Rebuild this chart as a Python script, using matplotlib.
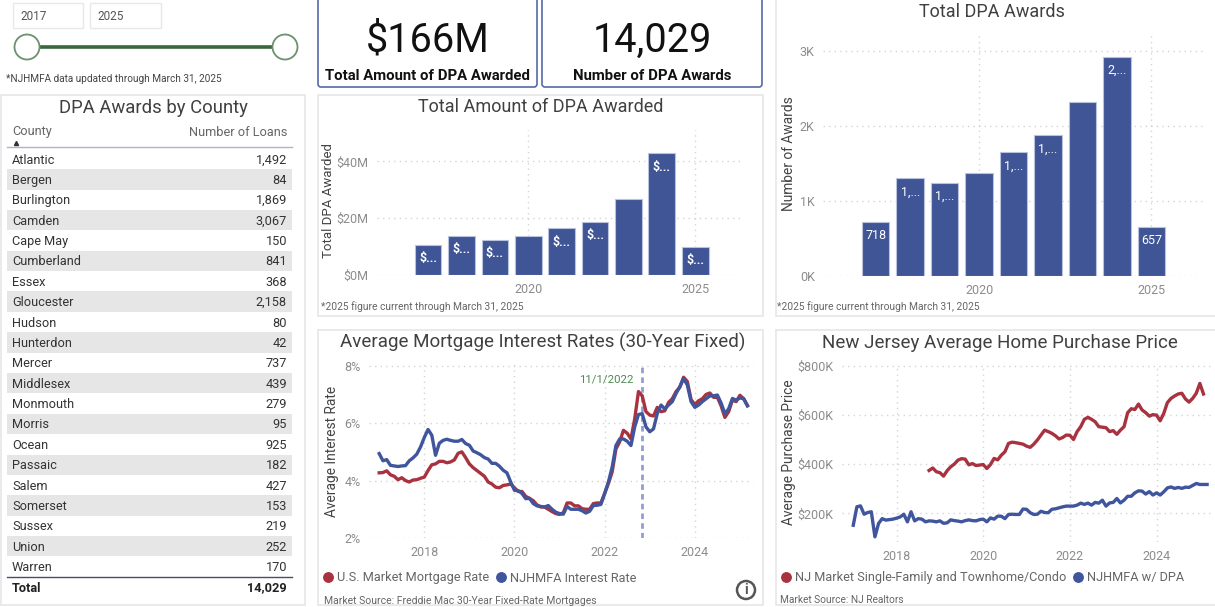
"""New Jersey DPA dashboard rebuilt as one matplotlib figure."""

import matplotlib.pyplot as plt
import numpy as np
from matplotlib.lines import Line2D
from matplotlib.patches import Circle, FancyBboxPatch, Rectangle

W, H = 1215, 607

COLOR_BAR = "#3f5595"
COLOR_BAR_EDGE = "#b9c3de"
COLOR_RED = "#a8323f"
COLOR_BLUE = "#3f559d"
COLOR_GREEN = "#38693a"
COLOR_TITLE = "#404040"
COLOR_TICK = "#8c8c8c"
COLOR_AXIS_TITLE = "#444444"
COLOR_NOTE = "#666666"
COLOR_PANEL = "#e8e8e8"
COLOR_GRID = "#d4d4d4"

# --- County table ---
COUNTIES = [
    "Atlantic", "Bergen", "Burlington", "Camden", "Cape May", "Cumberland", "Essex",
    "Gloucester", "Hudson", "Hunterdon", "Mercer", "Middlesex", "Monmouth", "Morris",
    "Ocean", "Passaic", "Salem", "Somerset", "Sussex", "Union", "Warren",
]
COUNTY_LOANS = [
    1492, 84, 1869, 3067, 150, 841, 368, 2158, 80, 42, 737, 439, 279, 95, 925, 182,
    427, 153, 219, 252, 170,
]
TOTAL_LOANS = 14029

# --- Yearly bars ---
BAR_YEARS = [2017, 2018, 2019, 2020, 2021, 2022, 2023, 2024, 2025]
AMOUNT_M = [10.6, 13.9, 12.35, 13.65, 16.5, 18.8, 26.8, 42.9, 10.0]
AMOUNT_LABELS = ["$...", "$...", "$...", "", "$...", "$...", "", "$...", "$..."]
AWARDS = [718, 1300, 1240, 1365, 1645, 1875, 2310, 2919, 657]
AWARD_LABELS = ["718", "1,...", "1,...", "", "1,...", "1,...", "", "2,...", "657"]

# --- Monthly rates, Jan 2017 to Mar 2025 ---
US_RATE = [
    4.27, 4.28, 4.34, 4.20, 4.15, 4.03, 4.10, 4.00, 3.95, 4.02, 4.03, 4.08,
    4.12, 4.35, 4.55, 4.58, 4.67, 4.67, 4.62, 4.65, 4.72, 4.95, 5.00, 4.80,
    4.58, 4.45, 4.35, 4.25, 4.15, 3.95, 3.88, 3.77, 3.75, 3.83, 3.85, 3.88,
    3.75, 3.62, 3.62, 3.45, 3.38, 3.30, 3.15, 3.08, 3.08, 3.00, 2.92, 2.85,
    2.82, 2.88, 3.22, 3.22, 3.12, 3.12, 3.02, 3.00, 3.00, 3.20, 3.22, 3.22,
    3.55, 3.90, 4.30, 5.10, 5.35, 5.75, 5.65, 5.45, 6.15, 7.10, 6.95, 6.40,
    6.28, 6.25, 6.55, 6.40, 6.43, 6.72, 6.85, 7.10, 7.25, 7.60, 7.45, 6.82,
    6.65, 6.78, 6.85, 7.00, 7.05, 6.90, 6.90, 6.60, 6.20, 6.40, 6.80, 6.75,
    6.97, 6.85, 6.62,
]
NJ_RATE = [
    4.94, 4.69, 4.73, 4.53, 4.51, 4.49, 4.51, 4.52, 4.69, 4.79, 4.92, 5.17,
    5.50, 5.78, 5.58, 4.88, 5.30, 5.40, 5.44, 5.40, 5.37, 5.37, 5.43, 5.29,
    5.23, 5.03, 4.97, 4.90, 4.80, 4.75, 4.60, 4.60, 4.50, 4.36, 4.27, 3.95,
    3.66, 3.65, 3.55, 3.37, 3.38, 3.20, 3.12, 3.10, 3.08, 3.13, 3.00, 2.90,
    2.85, 2.83, 3.10, 3.00, 3.00, 3.00, 2.95, 2.87, 2.93, 3.13, 3.14, 3.17,
    3.55, 3.95, 4.47, 5.22, 5.45, 5.45, 5.37, 5.22, 5.87, 6.30, 6.33, 5.87,
    5.70, 5.80, 6.33, 6.63, 6.50, 6.63, 6.75, 7.03, 7.27, 7.55, 7.33, 6.75,
    6.55, 6.63, 6.75, 6.85, 6.95, 6.95, 6.98, 6.70, 6.33, 6.50, 6.86, 6.80,
    6.88, 6.85, 6.60,
]
RATE_EVENT_X = 2022 + 10 / 12

# --- Monthly home prices in $K; market series runs Oct 2018 to Feb 2025 ---
MARKET_PRICE = [
    375, 385, 370,
    366, 352, 374, 390, 401, 417, 423, 421, 398, 403, 395, 397,
    399, 383, 399, 424, 418, 437, 451, 485, 490, 488, 485, 482,
    474, 469, 482, 499, 519, 539, 533, 526, 516, 503, 509, 519,
    518, 501, 533, 553, 583, 591, 583, 573, 553, 551, 549, 533,
    537, 522, 539, 553, 610, 626, 623, 645, 621, 610, 596, 602,
    600, 577, 607, 651, 668, 678, 686, 689, 666, 653, 668, 689,
    729, 686,
]
NJ_PRICE = [
    152, 227, 231, 197, 204, 207, 105, 159, 179, 173, 175, 177,
    181, 186, 197, 166, 207, 170, 179, 177, 166, 170, 169, 166,
    170, 160, 162, 174, 171, 169, 166, 171, 174, 171, 170, 175,
    177, 166, 182, 177, 189, 189, 179, 196, 197, 196, 196, 218,
    217, 203, 196, 197, 209, 204, 203, 217, 219, 223, 227, 230,
    230, 230, 234, 242, 237, 242, 234, 245, 242, 254, 230, 243,
    245, 261, 243, 254, 270, 270, 284, 292, 291, 279, 289, 275,
    284, 275, 288, 304, 308, 302, 306, 302, 307, 306, 314, 322,
    318, 318, 318,
]

plt.rcParams["font.family"] = ["Roboto", "DejaVu Sans"]
plt.rcParams["axes.unicode_minus"] = False

fig = plt.figure(figsize=(W / 100, H / 100), dpi=100, facecolor="white")

# Page layer in pixel coordinates, for panels and loose text
bg = fig.add_axes([0, 0, 1, 1], zorder=0)
bg.set_xlim(0, W)
bg.set_ylim(H, 0)
bg.axis("off")


def chart_axes(left, top, right, bottom):
    ax = fig.add_axes(
        [left / W, 1 - bottom / H, (right - left) / W, (bottom - top) / H], zorder=1
    )
    ax.patch.set_visible(False)
    for spine in ax.spines.values():
        spine.set_visible(False)
    ax.tick_params(length=0, labelsize=9, labelcolor=COLOR_TICK, pad=6)
    ax.grid(True, color=COLOR_GRID, linestyle=(0, (1, 3)), linewidth=1)
    ax.set_axisbelow(True)
    return ax


def panel(x0, y0, x1, y1):
    bg.add_patch(
        Rectangle((x0, y0), x1 - x0, y1 - y0, facecolor="white", edgecolor=COLOR_PANEL, linewidth=1.3)
    )


def card(x0, x1, value, caption):
    bg.add_patch(
        FancyBboxPatch(
            (x0 + 3, -10), x1 - x0 - 6, 97, boxstyle="round,pad=0,rounding_size=3",
            facecolor="white", edgecolor="#566aa6", linewidth=1.2,
        )
    )
    mid = (x0 + x1) / 2
    bg.text(mid, 40, value, ha="center", va="center", fontsize=28.5, color="#111111")
    bg.text(mid, 76, caption, ha="center", va="center", fontsize=10.7, fontweight="bold", color="#111111")


def bar_chart(ax, values, labels, weight):
    bars = ax.bar(BAR_YEARS, values, 0.8, color=COLOR_BAR, edgecolor=COLOR_BAR_EDGE, linewidth=0.8, zorder=2)
    for bar, label in zip(bars, labels):
        ax.annotate(
            label, (bar.get_x() + bar.get_width() / 2, bar.get_height()), xytext=(0, -10),
            textcoords="offset points", ha="center", va="center", color="white", fontsize=9, fontweight=weight,
        )
    ax.set_xticks([2020, 2025])


def line_legend(ax, x, y, names):
    handles = [
        Line2D([], [], linestyle="none", marker="o", markersize=6.8, color=c, label=n)
        for c, n in zip([COLOR_RED, COLOR_BLUE], names)
    ]
    ax.legend(
        handles=handles, loc="center left", bbox_to_anchor=(x, y), bbox_transform=bg.transData,
        ncol=2, frameon=False, borderpad=0, borderaxespad=0, handlelength=0.7,
        handletextpad=0.35, columnspacing=0.55, labelcolor="#666666", fontsize=9.2,
    )


def note(x, y, text, size):
    bg.text(x, y, text, ha="left", va="center", fontsize=size, color=COLOR_NOTE)


def axis_title(x, y, text, size):
    bg.text(x, y, text, rotation=90, ha="center", va="center", fontsize=size, color=COLOR_AXIS_TITLE)


# Year slicer
for x0, x1, year in [(13, 83, "2017"), (90, 161, "2025")]:
    bg.add_patch(Rectangle((x0, 3), x1 - x0, 25, facecolor="white", edgecolor=COLOR_PANEL, linewidth=1))
    bg.text(x0 + 7, 16, year, ha="left", va="center", fontsize=8.5, color="#555555")
bg.plot([27, 285], [47, 47], color=COLOR_GREEN, linewidth=2.6, zorder=2)
for cx in (27, 285):
    bg.add_patch(Circle((cx, 47), 12.5, facecolor="white", edgecolor="#6d9170", linewidth=1.3, zorder=3))
bg.text(6, 79, "*NJHMFA data updated through March 31, 2025", ha="left", va="center", fontsize=7.2, color="#444444")

# County table
panel(1, 95, 305, 605)
bg.text(153, 108, "DPA Awards by County", ha="center", va="center", fontsize=13.3, color=COLOR_TITLE)
bg.text(12, 132, "County", ha="left", va="center", fontsize=9.2, color="#666666")
bg.text(287, 132, "Number of Loans", ha="right", va="center", fontsize=9.2, color="#666666")
bg.plot([16], [143], marker="^", markersize=3, color="#333333")
bg.plot([7, 292], [147, 147], color="#a9b4d3", linewidth=1)
for i, (county, loans) in enumerate(zip(COUNTIES, COUNTY_LOANS)):
    row_y = 159 + i * 20.38
    if i % 2 == 1:
        bg.add_patch(Rectangle((7, row_y - 10.2), 285, 20.4, facecolor="#e6e6e6", edgecolor="none"))
    bg.text(12, row_y + 1, county, ha="left", va="center", fontsize=9.2, color="#333333")
    bg.text(287, row_y + 1, f"{loans:,}", ha="right", va="center", fontsize=9.2, color="#333333")
bg.plot([7, 292], [577, 577], color="#444e6e", linewidth=1)
bg.text(12, 588, "Total", ha="left", va="center", fontsize=9.2, fontweight="bold", color="#222222")
bg.text(287, 588, f"{TOTAL_LOANS:,}", ha="right", va="center", fontsize=9.2, fontweight="bold", color="#222222")

# KPI cards
card(315, 540, "$166M", "Total Amount of DPA Awarded")
card(539, 765, "14,029", "Number of DPA Awards")

# Total amount bars
panel(318, 95, 763, 316)
bg.text(541, 107, "Total Amount of DPA Awarded", ha="center", va="center", fontsize=13, color=COLOR_TITLE)
ax_amount = chart_axes(377, 130, 743, 275)
bar_chart(ax_amount, AMOUNT_M, AMOUNT_LABELS, "bold")
ax_amount.set_xlim(2015.47, 2026.43)
ax_amount.set_ylim(0, 51.1)
ax_amount.set_yticks([0, 20, 40], ["$0M", "$20M", "$40M"])
axis_title(328, 201, "Total DPA Awarded", 9.5)
note(321, 307, "*2025 figure current through March 31, 2025", 7.4)

# Total awards bars
panel(776, -5, 1225, 316)
bg.text(992, 12, "Total DPA Awards", ha="center", va="center", fontsize=13, color=COLOR_TITLE)
ax_awards = chart_axes(823, 33, 1203, 276)
bar_chart(ax_awards, AWARDS, AWARD_LABELS, "normal")
ax_awards.set_xlim(2015.47, 2026.5)
ax_awards.set_ylim(0, 3235)
ax_awards.set_yticks([0, 1000, 2000, 3000], ["0K", "1K", "2K", "3K"])
axis_title(789, 154, "Number of Awards", 9.95)
note(777, 307, "*2025 figure current through March 31, 2025", 7.4)

# Mortgage rates
panel(318, 330, 763, 605)
bg.text(543, 342.5, "Average Mortgage Interest Rates (30-Year Fixed)", ha="center", va="center", fontsize=13.5, color=COLOR_TITLE)
ax_rate = chart_axes(369, 364, 753, 538)
rate_x = 2017 + np.arange(len(US_RATE)) / 12
ax_rate.axvline(RATE_EVENT_X, color="#8f9fd2", linestyle=(0, (2, 1.5)), linewidth=2, zorder=1.5)
ax_rate.plot(rate_x, US_RATE, color=COLOR_RED, linewidth=2.4, zorder=3)
ax_rate.plot(rate_x, NJ_RATE, color=COLOR_BLUE, linewidth=2.4, zorder=4)
ax_rate.set_xlim(2016.774, 2025.29)
ax_rate.set_ylim(2, 8.06)
ax_rate.set_xticks([2018, 2020, 2022, 2024], ["2018", "2020", "2022", "2024"])
ax_rate.set_yticks([2, 4, 6, 8], ["2%", "4%", "6%", "8%"])
ax_rate.annotate(
    "11/1/2022", (RATE_EVENT_X, 7.52), xytext=(-6, 0), textcoords="offset points",
    ha="right", va="center", fontsize=8.2, color="#4f8a52",
)
axis_title(332, 451, "Average Interest Rate", 9.9)
line_legend(ax_rate, 324, 578, ["U.S. Market Mortgage Rate", "NJHMFA Interest Rate"])
note(324, 601, "Market Source: Freddie Mac 30-Year Fixed-Rate Mortgages", 7.45)
bg.add_patch(Circle((746, 590), 9, facecolor="white", edgecolor="#555555", linewidth=1.8, zorder=3))
bg.text(746, 590, "i", ha="center", va="center", fontsize=10, fontweight="bold", color="#555555", zorder=4)

# Home prices
panel(776, 330, 1225, 605)
bg.text(999.5, 342.5, "New Jersey Average Home Purchase Price", ha="center", va="center", fontsize=13.5, color=COLOR_TITLE)
ax_price = chart_axes(842, 364, 1212, 542)
market_x = 2018 + 9 / 12 + np.arange(len(MARKET_PRICE)) / 12
nj_x = 2017 + np.arange(len(NJ_PRICE)) / 12
ax_price.plot(market_x, MARKET_PRICE, color=COLOR_RED, linewidth=2.4, zorder=3)
ax_price.plot(nj_x, NJ_PRICE, color=COLOR_BLUE, linewidth=2.4, zorder=4)
ax_price.set_xlim(2016.74, 2025.28)
ax_price.set_ylim(84, 808)
ax_price.set_xticks([2018, 2020, 2022, 2024], ["2018", "2020", "2022", "2024"])
ax_price.set_yticks([200, 400, 600, 800], ["$200K", "$400K", "$600K", "$800K"])
axis_title(789, 452, "Average Purchase Price", 9.95)
line_legend(ax_price, 782, 578, ["NJ Market Single-Family and Townhome/Condo", "NJHMFA w/ DPA"])
note(780, 600, "Market Source: NJ Realtors", 7.3)

fig.savefig("out.png", dpi=100)
